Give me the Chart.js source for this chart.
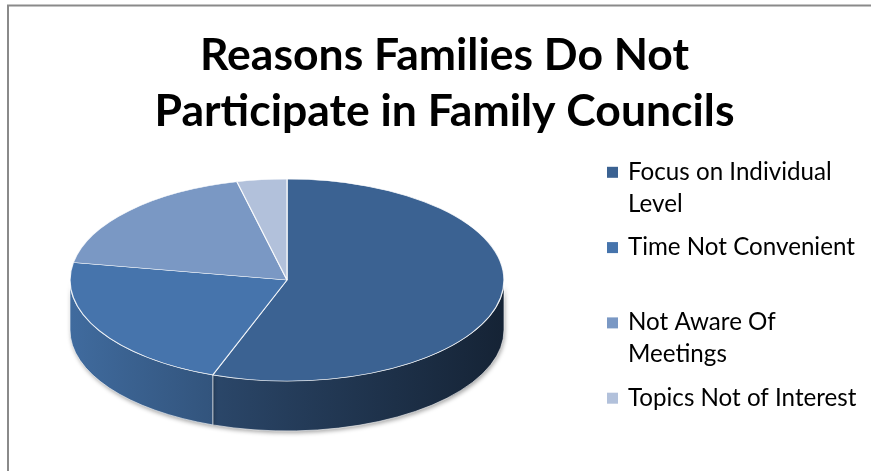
<!DOCTYPE html>
<html><head><meta charset="utf-8">
<style>html,body{margin:0;padding:0;background:#fff;} canvas{display:block;}</style>
<script src="https://cdn.jsdelivr.net/npm/chart.js@4.4.1/dist/chart.umd.min.js"></script>
</head><body>
<canvas id="c" width="871" height="471"></canvas>
<script>
// ---- data ----
const titleLines = ['Reasons Families Do Not', 'Participate in Family Councils'];
const categories = ['Focus on Individual Level', 'Time Not Convenient', 'Not Aware Of Meetings', 'Topics Not of Interest'];
const values = [15, 6, 5, 1];
const sliceColors = ['#3B6292', '#4674AC', '#7A98C4', '#B2C1DB'];

// ---- geometry of the 3D look ----
const CX = 287, CY = 280, RX = 217, RY = 101, DEPTH = 50;

function fitSize(text, weight, family, target) {
  const c = document.createElement('canvas').getContext('2d');
  c.font = weight + ' 100px ' + family;
  return 100 * target / c.measureText(text).width;
}
const titleSize = fitSize(titleLines[1], 'bold', 'Lato', 580);
const legendSize = fitSize(categories[1], 'normal', 'Lato', 227);

function shade(hex, f) {
  const n = parseInt(hex.slice(1), 16);
  const r = Math.round(((n >> 16) & 255) * f), g = Math.round(((n >> 8) & 255) * f), b = Math.round((n & 255) * f);
  return 'rgb(' + r + ',' + g + ',' + b + ')';
}

function wrap(ctx, text, maxW) {
  const words = text.split(' ');
  const lines = [];
  let cur = '';
  words.forEach(w => {
    const t = cur ? cur + ' ' + w : w;
    if (cur && ctx.measureText(t).width > maxW) { lines.push(cur); cur = w; } else cur = t;
  });
  if (cur) lines.push(cur);
  return lines;
}

const pie3d = {
  id: 'pie3d',
  beforeDatasetsDraw(chart) {
    const ctx = chart.ctx;
    const meta = chart.getDatasetMeta(0);
    // side walls (front half only)
    meta.data.forEach((arc, i) => {
      const p = arc.getProps(['startAngle', 'endAngle'], true);
      const a = Math.max(p.startAngle, 0), b = Math.min(p.endAngle, Math.PI);
      if (b <= a) return;
      const grad = ctx.createLinearGradient(CX - RX, 0, CX + RX, 0);
      grad.addColorStop(0, shade(sliceColors[i], 0.92));
      grad.addColorStop(0.5, shade(sliceColors[i], 0.62));
      grad.addColorStop(1, shade(sliceColors[i], 0.36));
      ctx.save();
      ctx.beginPath();
      ctx.ellipse(CX, CY, RX, RY, 0, a, b, false);
      ctx.ellipse(CX, CY + DEPTH, RX, RY, 0, b, a, true);
      ctx.closePath();
      ctx.shadowColor = 'rgba(0,0,0,0.35)';
      ctx.shadowBlur = 4; ctx.shadowOffsetX = 1; ctx.shadowOffsetY = 2;
      ctx.fillStyle = grad;
      ctx.fill();
      ctx.shadowColor = 'transparent';
      ctx.strokeStyle = 'rgba(255,255,255,0.6)';
      ctx.lineWidth = 1;
      ctx.stroke();
      ctx.restore();
    });
    // squash the library's pie into the top face
    const p0 = meta.data[0].getProps(['x', 'y', 'outerRadius'], true);
    ctx.save();
    ctx.translate(CX, CY);
    ctx.scale(RX / p0.outerRadius, RY / p0.outerRadius);
    ctx.translate(-p0.x, -p0.y);
  },
  afterDatasetsDraw(chart) {
    chart.ctx.restore();
  },
  afterDraw(chart) {
    const ctx = chart.ctx;
    ctx.save();
    ctx.font = legendSize + 'px Lato';
    ctx.textBaseline = 'alphabetic';
    categories.forEach((label, i) => {
      const capTop = 165.3 + 75.3 * i;
      ctx.fillStyle = sliceColors[i];
      ctx.fillRect(607, capTop + 1.5, 11, 11);
      ctx.fillStyle = '#000';
      wrap(ctx, label, 238).forEach((ln, j) => ctx.fillText(ln, 628, capTop + 14.5 + 32 * j));
    });
    ctx.strokeStyle = '#8a8a8a';
    ctx.lineWidth = 2;
    ctx.beginPath();
    ctx.moveTo(8, 471); ctx.lineTo(8, 5.5); ctx.lineTo(871, 5.5);
    ctx.stroke();
    ctx.restore();
  }
};

new Chart(document.getElementById('c'), {
  type: 'pie',
  data: {
    labels: categories,
    datasets: [{
      data: values,
      backgroundColor: sliceColors,
      borderColor: 'rgba(255,255,255,0.85)',
      borderWidth: 1,
      hoverOffset: 0,
      clip: false
    }]
  },
  options: {
    responsive: false,
    animation: false,
    events: [],
    layout: { padding: { left: 18, top: 0, right: 0, bottom: 0 } },
    plugins: {
      legend: { display: false },
      tooltip: { enabled: false },
      title: {
        display: true,
        text: titleLines,
        color: '#000',
        font: { family: 'Lato', size: titleSize, weight: 'bold', lineHeight: 56.5 / titleSize },
        padding: { top: 27, bottom: 0 }
      }
    }
  },
  plugins: [pie3d]
});
</script>
</body></html>
